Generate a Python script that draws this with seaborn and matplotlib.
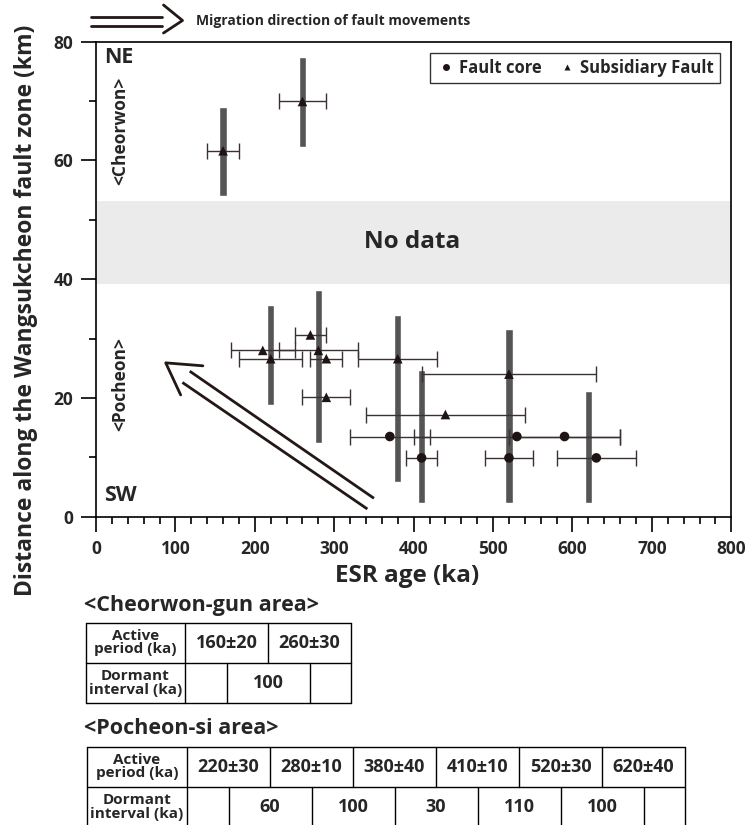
import numpy as np
import pandas as pd
import seaborn as sns
import matplotlib.pyplot as plt

sns.set_theme(style="ticks")
plt.rcParams['font.family'] = ['Open Sans', 'DejaVu Sans']
plt.rcParams['font.weight'] = 'bold'

# ESR ages (ka), 1-sigma errors and distance along the fault zone (km)
core_age = [370, 530, 590, 410, 520, 630]
core_err = [50, 130, 70, 20, 30, 50]
core_dist = [13.5, 13.5, 13.5, 9.9, 9.9, 9.9]

sub_age = [160, 260, 270, 210, 280, 220, 290, 380, 290, 440, 520]
sub_err = [20, 30, 20, 40, 50, 40, 20, 50, 30, 100, 110]
sub_dist = [61.6, 69.9, 30.6, 28.0, 28.0, 26.6, 26.6, 26.6, 20.1, 17.2, 24.0]

# active periods (grey bars): age and distance range
act_age = [160, 260, 220, 280, 380, 410, 520, 620]
act_bottom = [54.0, 62.3, 18.8, 12.4, 5.9, 2.3, 2.3, 2.3]
act_top = [69.0, 77.4, 35.6, 38.2, 34.0, 24.7, 31.6, 21.1]

nodata_lo, nodata_hi = 39.2, 53.2

# tables
ch_active = ['160±20', '260±30']
ch_dormant = ['100']
po_active = ['220±30', '280±10', '380±40', '410±10', '520±30', '620±40']
po_dormant = ['60', '100', '30', '110', '100']

pts = pd.DataFrame({
    'age': core_age + sub_age,
    'err': core_err + sub_err,
    'dist': core_dist + sub_dist,
    'type': ['Fault core'] * len(core_age) + ['Subsidiary Fault'] * len(sub_age),
})

fig = plt.figure(figsize=(7.5, 8.25), dpi=100)
ax = fig.add_axes([96 / 750, 1 - 516.7 / 825, 635.3 / 750, 475.2 / 825])

ax.axhspan(nodata_lo, nodata_hi, color='#ebebeb', lw=0, zorder=0)
ax.bar(act_age, np.array(act_top) - np.array(act_bottom), bottom=act_bottom,
       width=9, color='#555555', zorder=1)
ax.errorbar(pts['age'], pts['dist'], xerr=pts['err'], fmt='none',
            ecolor='#3a3232', elinewidth=1.0, capsize=5.5, capthick=1.0, zorder=2)
sns.scatterplot(data=pts, x='age', y='dist', style='type',
                markers={'Fault core': 'o', 'Subsidiary Fault': '^'},
                color='#1e1414', s=48, edgecolor='none', ax=ax, zorder=3)

# migration arrow inside the plot
ink = '#231815'
ax.plot([350, 118], [3.1, 24.5], color=ink, lw=2.0, solid_capstyle='butt', zorder=4)
ax.plot([341.7, 108.8], [1.3, 22.6], color=ink, lw=2.0, solid_capstyle='butt', zorder=4)
ax.plot([134.6, 87.8, 106.6], [25.4, 25.9, 20.5], color=ink, lw=2.0, zorder=4)

ax.set_xlim(0, 800)
ax.set_ylim(0, 80)
ax.set_xticks(np.arange(0, 801, 100))
ax.set_xticks(np.arange(0, 801, 20), minor=True)
ax.set_yticks(np.arange(0, 81, 20))
ax.set_yticks(np.arange(0, 81, 10), minor=True)
ax.tick_params(which='major', length=10.5, width=1.2, color='black', labelsize=12.5, pad=6)
ax.tick_params(which='minor', length=5, width=1.2, color='black')
for lab in ax.get_xticklabels() + ax.get_yticklabels():
    lab.set_fontweight('bold')
for sp in ax.spines.values():
    sp.set_color('black')
    sp.set_linewidth(1.2)

ax.set_xlabel('ESR age (ka)', fontsize=17.5, fontweight='bold')
ax.set_ylabel('Distance along the Wangsukcheon fault zone (km)', fontsize=16.5, fontweight='bold')
ax.xaxis.set_label_coords(0.49, -0.1)
ax.yaxis.set_label_coords(-0.092, 0.435)

ax.text(10, 77.3, 'NE', fontsize=15.5, fontweight='bold', va='center')
ax.text(10, 3.6, 'SW', fontsize=15.5, fontweight='bold', va='center')
ax.text(30, 65.0, '<Cheorwon>', fontsize=12.5, fontweight='bold', rotation=90,
        ha='center', va='center')
ax.text(30, 22.3, '<Pocheon>', fontsize=12.5, fontweight='bold', rotation=90,
        ha='center', va='center')
ax.text(398, 46.2, 'No data', fontsize=17.5, fontweight='bold', ha='center', va='center')

handles, labels = ax.get_legend_handles_labels()
for h in handles:
    h.set_markersize(5)
leg = ax.legend(handles, labels, loc='upper right', ncol=2, frameon=True, fancybox=False,
                edgecolor='black', fontsize=12, handletextpad=0.2, columnspacing=0.9,
                borderaxespad=0.7, handlelength=1.2, borderpad=0.35)
leg.get_frame().set_linewidth(1.0)
for t in leg.get_texts():
    t.set_fontweight('bold')

# overlay in pixel coordinates for the header arrow and the tables
ov = fig.add_axes([0, 0, 1, 1], facecolor='none')
ov.set_xlim(0, 750)
ov.set_ylim(825, 0)
ov.axis('off')

ov.plot([91, 162], [16.7, 16.7], color=ink, lw=2.0)
ov.plot([91, 162], [25.7, 25.7], color=ink, lw=2.0)
ov.plot([163.5, 182.5, 163.5], [5, 20.5, 33], color=ink, lw=2.0)
ov.text(196, 21, 'Migration direction of fault movements', fontsize=10,
        fontweight='bold', va='center')


def draw_table(x0, y0, head_w, cell_w, active, dormant, row_h=40.3):
    n = len(active)
    x1 = x0 + head_w + n * cell_w
    lk = dict(color='black', lw=1.0)
    for y in (y0, y0 + row_h, y0 + 2 * row_h):
        ov.plot([x0, x1], [y, y], **lk)
    ov.plot([x0, x0], [y0, y0 + 2 * row_h], **lk)
    ov.plot([x1, x1], [y0, y0 + 2 * row_h], **lk)
    ov.plot([x0 + head_w] * 2, [y0, y0 + 2 * row_h], **lk)
    for i in range(1, n):
        xa = x0 + head_w + i * cell_w
        ov.plot([xa, xa], [y0, y0 + row_h], **lk)
    for i in range(n):
        xb = x0 + head_w + (i + 0.5) * cell_w
        ov.plot([xb, xb], [y0 + row_h, y0 + 2 * row_h], **lk)
    ov.text(x0 + head_w / 2, y0 + row_h / 2, 'Active\nperiod (ka)', fontsize=11,
            fontweight='bold', ha='center', va='center', linespacing=0.92)
    ov.text(x0 + head_w / 2, y0 + 1.5 * row_h, 'Dormant\ninterval (ka)', fontsize=11,
            fontweight='bold', ha='center', va='center', linespacing=0.92)
    for i, v in enumerate(active):
        ov.text(x0 + head_w + (i + 0.5) * cell_w, y0 + row_h / 2, v, fontsize=13,
                fontweight='bold', ha='center', va='center')
    for i, v in enumerate(dormant):
        ov.text(x0 + head_w + (i + 1) * cell_w, y0 + 1.5 * row_h, v, fontsize=13,
                fontweight='bold', ha='center', va='center')


ov.text(84, 606, '<Cheorwon-gun area>', fontsize=15.5, fontweight='bold', va='center')
draw_table(86, 622.5, 99, 83, ch_active, ch_dormant)
ov.text(84, 728, '<Pocheon-si area>', fontsize=15.5, fontweight='bold', va='center')
draw_table(87, 746.5, 100, 83, po_active, po_dormant)

fig.savefig('out.png', dpi=100)
